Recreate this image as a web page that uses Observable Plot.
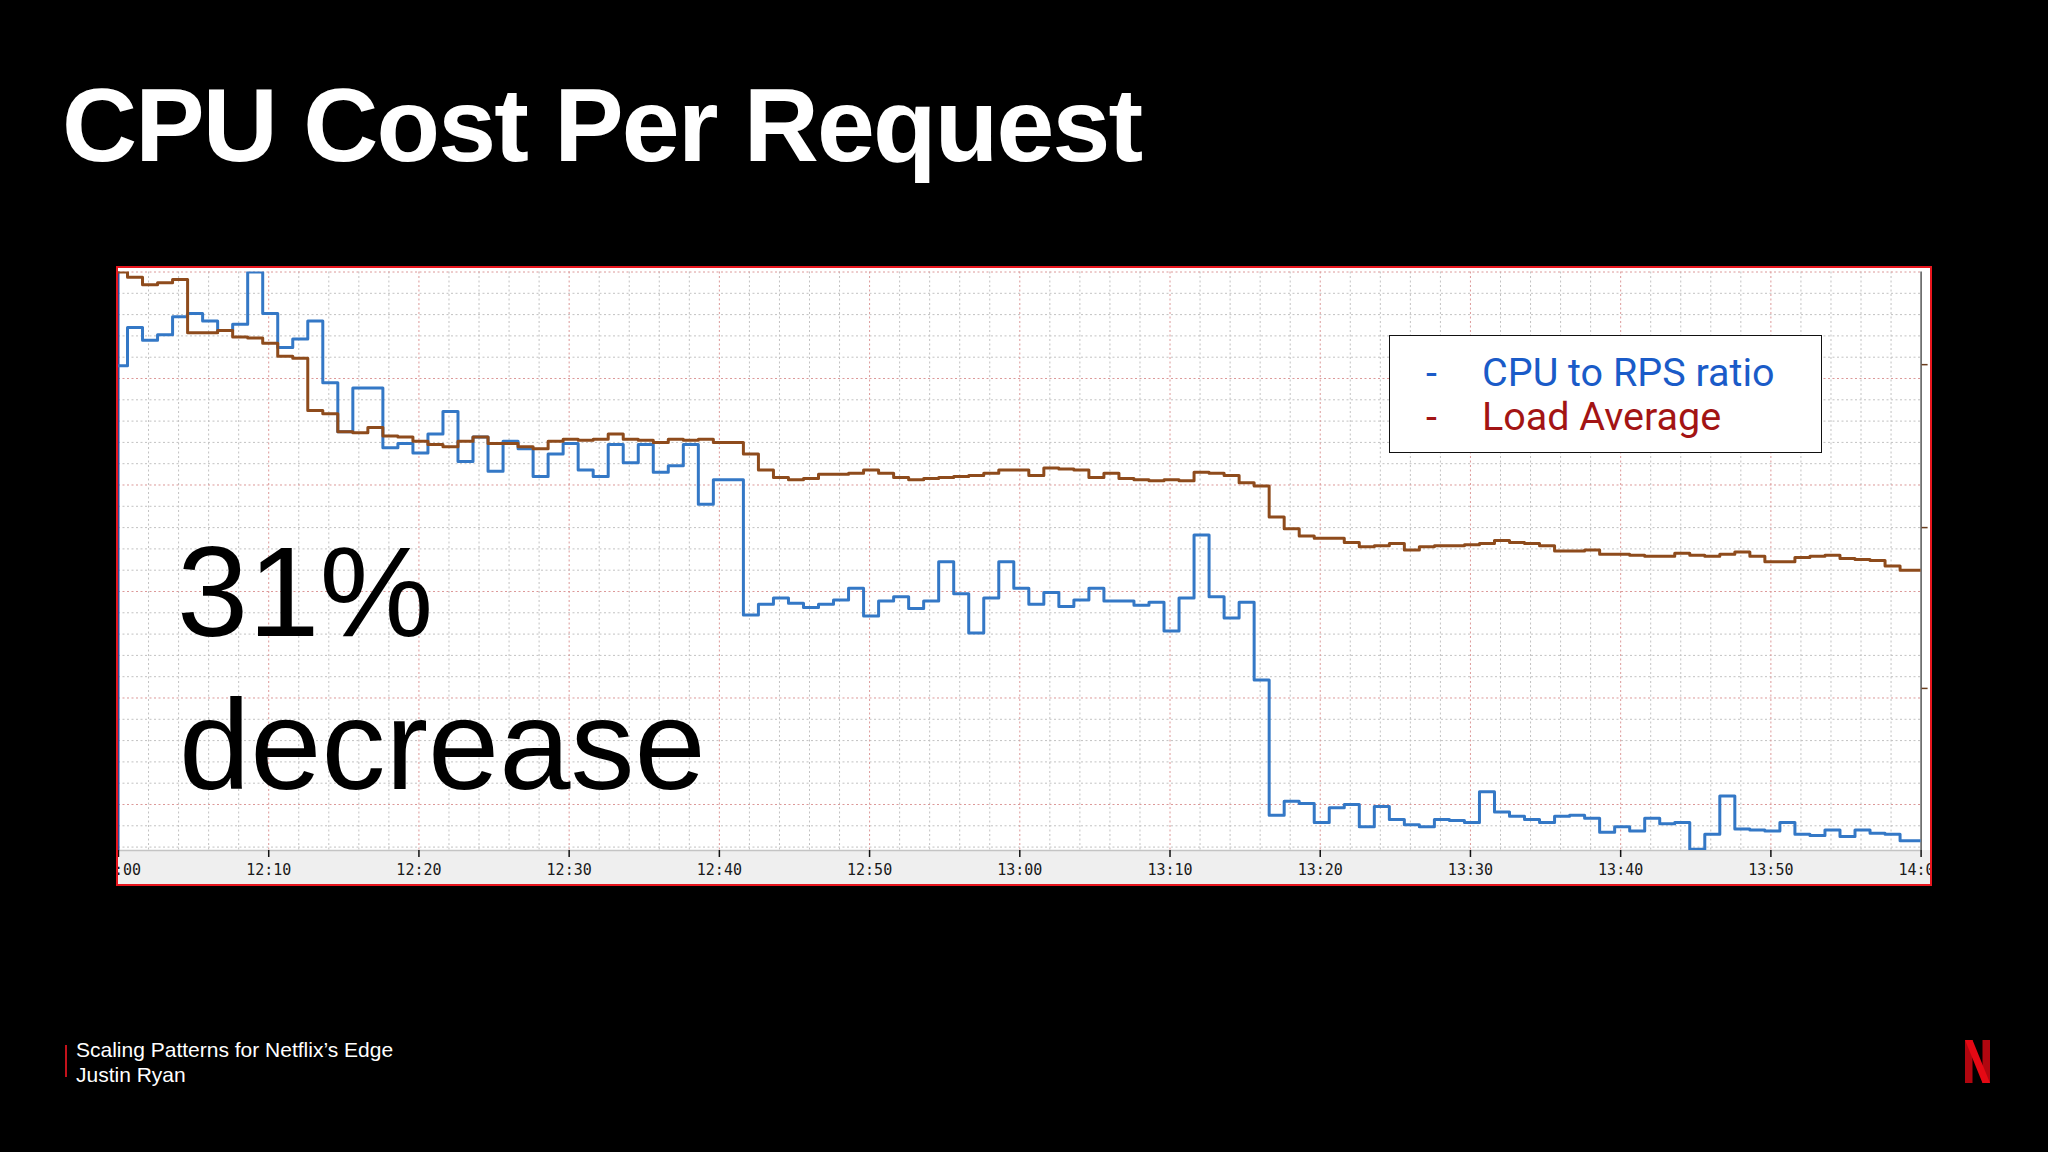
<!DOCTYPE html>
<html>
<head>
<meta charset="utf-8">
<script src="https://cdn.jsdelivr.net/npm/d3@7"></script>
<script src="https://cdn.jsdelivr.net/npm/@observablehq/plot@0.6"></script>
<style>
html, body { margin: 0; padding: 0; background: #000; }
body { width: 2048px; height: 1152px; position: relative; overflow: hidden; font-family: "Liberation Sans", Arial, sans-serif; }
#title { position: absolute; left: 62px; top: 73px; color: #fff; font-weight: bold; font-size: 104px; line-height: 1; letter-spacing: -1.8px; white-space: nowrap; }
#chartbox { position: absolute; left: 116px; top: 266px; width: 1812px; height: 616px; border: 2px solid #e8161e; overflow: hidden; background: #fff; }
.big { position: absolute; color: #000; font-size: 128px; line-height: 1; white-space: nowrap; font-family: "Liberation Sans", Arial, sans-serif; }
#legend { position: absolute; left: 1389px; top: 335px; width: 433px; height: 118px; border: 1.5px solid #111; background: #fff; box-sizing: border-box; }
.leg { position: absolute; font-family: Roboto, "Noto Sans", sans-serif; font-size: 39.5px; line-height: 1; white-space: nowrap; }
.foot { position: absolute; left: 76px; color: #fff; font-size: 21px; line-height: 1; white-space: nowrap; }
#bar { position: absolute; left: 65px; top: 1045px; width: 2px; height: 32px; background: #c3121b; }
#logo { position: absolute; left: 1965px; top: 1040px; }
</style>
</head>
<body>
<div id="title">CPU Cost Per Request</div>
<div id="chartbox"></div>
<div id="legend"></div>
<div class="leg" style="left:1426px; top:353px; color:#1a5bc8;">-</div>
<div class="leg" style="left:1482px; top:353px; color:#1a5bc8;">CPU to RPS ratio</div>
<div class="leg" style="left:1426px; top:397px; color:#a31414;">-</div>
<div class="leg" style="left:1482px; top:397px; color:#a31414;">Load Average</div>
<div class="big" style="left:177px; top:528px;">31%</div>
<div class="big" style="left:179px; top:681px;">decrease</div>
<div id="bar"></div>
<div class="foot" style="top:1039px;">Scaling Patterns for Netflix’s Edge</div>
<div class="foot" style="top:1064px;">Justin Ryan</div>
<svg id="logo" width="25" height="43" viewBox="0 0 25 43">
  <rect x="0" y="0" width="7.5" height="43" fill="#b1060f"/>
  <rect x="17.5" y="0" width="7.5" height="43" fill="#b1060f"/>
  <polygon points="0,0 7.5,0 25,43 17.5,43" fill="#e50914"/>
</svg>
<script>
// ---- data: one sample per minute, first sample at 11:59:36 ----
const sampleStart = "2020-01-01T11:59:36Z";
const axisStart = "2020-01-01T12:00:00Z";
const axisEnd = "2020-01-01T14:00:00Z";

// CPU to RPS ratio (blue), chart units
const cpuToRps = [
  51.2, 54.8, 53.6, 54.1, 55.8, 56.1, 55.4, 54.5, 55.1, 60.0,
  56.1, 52.9, 53.7, 55.4, 49.6, 45.0, 49.1, 49.1, 43.5, 43.9,
  43.0, 44.8, 46.9, 42.2, 44.5, 41.3, 44.1, 43.4, 40.8, 42.9,
  43.9, 41.4, 40.8, 43.8, 42.1, 43.8, 41.2, 41.8, 43.8, 38.2,
  40.5, 40.5, 27.8, 28.8, 29.4, 28.9, 28.5, 28.8, 29.2, 30.3,
  27.7, 29.1, 29.5, 28.4, 29.1, 32.8, 29.8, 26.1, 29.4, 32.8,
  30.3, 28.8, 29.9, 28.6, 29.2, 30.3, 29.1, 29.1, 28.7, 29.0,
  26.3, 29.4, 35.3, 29.5, 27.5, 29.0, 21.7, 9.0, 10.3, 10.1,
  8.3, 9.7, 10.0, 7.9, 9.8, 8.6, 8.1, 7.9, 8.6, 8.5,
  8.3, 11.2, 9.3, 8.9, 8.6, 8.3, 8.9, 9.0, 8.7, 7.4,
  7.9, 7.5, 8.7, 8.2, 8.3, 5.8, 7.2, 10.8, 7.7, 7.6,
  7.5, 8.3, 7.2, 7.1, 7.6, 7.0, 7.6, 7.3, 7.2, 6.6,
  6.6
];

// Load Average (brown), chart units
const loadAverage = [
  60.0, 59.5, 58.8, 59.0, 59.3, 54.3, 54.3, 54.5, 53.9, 53.8,
  53.3, 52.1, 51.9, 47.0, 46.7, 45.0, 44.9, 45.4, 44.6, 44.5,
  44.1, 43.8, 43.6, 44.1, 44.5, 43.9, 43.9, 43.6, 43.4, 44.1,
  44.3, 44.2, 44.3, 44.8, 44.3, 44.2, 44.0, 44.3, 44.2, 44.3,
  44.0, 44.0, 42.9, 41.4, 40.7, 40.5, 40.6, 41.0, 41.0, 41.1,
  41.4, 41.1, 40.7, 40.5, 40.6, 40.7, 40.8, 40.9, 41.1, 41.4,
  41.4, 40.9, 41.6, 41.5, 41.4, 40.7, 41.1, 40.6, 40.5, 40.4,
  40.5, 40.4, 41.2, 41.1, 40.9, 40.2, 39.9, 37.0, 35.9, 35.2,
  35.0, 35.0, 34.6, 34.2, 34.3, 34.5, 33.9, 34.2, 34.3, 34.3,
  34.4, 34.5, 34.8, 34.6, 34.5, 34.3, 33.8, 33.8, 33.9, 33.5,
  33.5, 33.4, 33.3, 33.3, 33.6, 33.4, 33.3, 33.5, 33.7, 33.3,
  32.8, 32.8, 33.2, 33.3, 33.4, 33.1, 33.0, 32.9, 32.4, 32.0,
  32.0
];

// axis / grid settings
const yDomain = [5.68, 60];
const yMajorTicks = [10, 20, 30, 40, 50, 60];
const yMinorTicks = d3.range(6, 60, 2).filter(v => v % 10 !== 0);
const rightAxisTicks = [20.9, 36.0, 51.3];
const xMajorMinutes = 10;
const xMinorMinutes = 2;

// ---- build ----
const t0 = new Date(sampleStart).getTime();
function toSeries(values) {
  const rows = values.map((v, i) => ({ time: new Date(t0 + i * 60000), value: v }));
  rows.push({ time: new Date(t0 + values.length * 60000), value: values[values.length - 1] });
  return rows;
}
const cpuRows = toSeries(cpuToRps);
const loadRows = toSeries(loadAverage);

const xs = new Date(axisStart), xe = new Date(axisEnd);
const xMajor = d3.utcMinute.every(xMajorMinutes).range(xs, new Date(xe.getTime() + 1));
const xMinor = d3.utcMinute.every(xMinorMinutes).range(xs, xe).filter(d => d.getUTCMinutes() % xMajorMinutes !== 0);
const xMajorInner = xMajor.filter(d => d > xs && d < xe);

const dash = "2,2.5";
const chart = Plot.plot({
  width: 1812,
  height: 616,
  marginLeft: 0,
  marginRight: 9.4,
  marginTop: 3.5,
  marginBottom: 34,
  style: {
    background: "linear-gradient(to bottom, #ffffff 582px, #efefef 582px)",
    fontFamily: "'DejaVu Sans Mono', monospace",
    fontSize: "15px",
    color: "#1a1a1a",
    overflow: "hidden"
  },
  x: { type: "utc", domain: [xs, xe] },
  y: { domain: yDomain, axis: null },
  marks: [
    Plot.ruleX(xMinor, { stroke: "#c2c2c2", strokeDasharray: dash, strokeWidth: 1 }),
    Plot.ruleY(yMinorTicks, { stroke: "#c2c2c2", strokeDasharray: dash, strokeWidth: 1 }),
    Plot.ruleX(xMajorInner, { stroke: "#dc9898", strokeDasharray: dash, strokeWidth: 1 }),
    Plot.ruleY(yMajorTicks, { stroke: "#dc9898", strokeDasharray: dash, strokeWidth: 1 }),
    Plot.ruleY([yDomain[0]], { stroke: "#c4c4c4", strokeWidth: 1.5 }),
    Plot.ruleX([xs], { stroke: "#2b4f9a", strokeWidth: 2 }),
    Plot.ruleX([xe], { stroke: "#555555", strokeWidth: 1.5 }),
    Plot.axisY(rightAxisTicks, { anchor: "right", tickSize: 6, tickFormat: () => "", label: null, stroke: "#6a3d1e", strokeWidth: 1.5 }),
    Plot.line(cpuRows, { x: "time", y: "value", curve: "step-after", stroke: "#3478c6", strokeWidth: 3, clip: true }),
    Plot.line(loadRows, { x: "time", y: "value", curve: "step-after", stroke: "#8e4b1c", strokeWidth: 3, clip: true }),
    Plot.axisX(xMajor, { tickFormat: d3.utcFormat("%H:%M"), tickSize: 7, tickPadding: 7, stroke: "#111", strokeWidth: 1.5, fill: "#1a1a1a", label: null, fontSize: 15 })
  ]
});
document.getElementById("chartbox").appendChild(chart);
</script>
</body>
</html>
